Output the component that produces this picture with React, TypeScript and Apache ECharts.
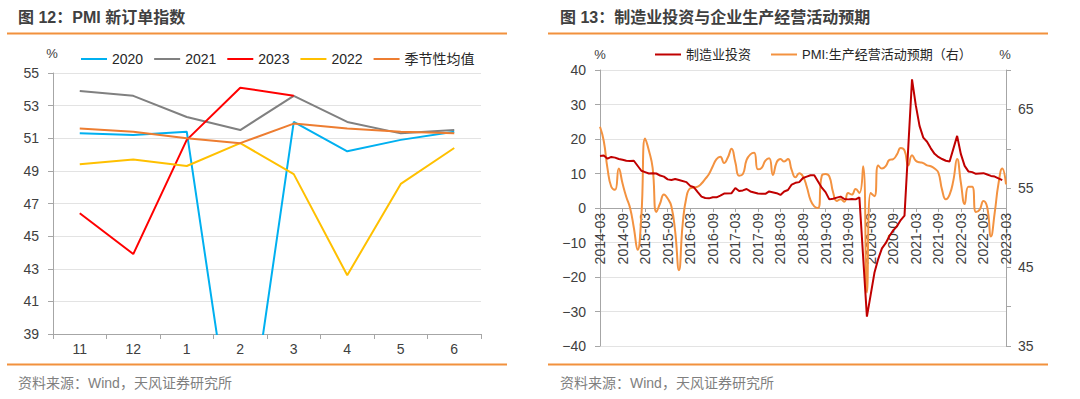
import React, { useEffect, useRef } from "react";
import * as echarts from "echarts";

// ---------- Left chart: PMI new orders index ----------
const pmiMonths = ["11", "12", "1", "2", "3", "4", "5", "6"];
const pmi2020 = [51.3, 51.2, 51.4, 29.3, 52.0, 50.2, 50.9, 51.4];
const pmi2021 = [53.9, 53.6, 52.3, 51.5, 53.6, 52.0, 51.3, 51.5];
const pmi2023 = [46.4, 43.9, 50.9, 54.1, 53.6, null, null, null];
const pmi2022 = [49.4, 49.7, 49.3, 50.7, 48.8, 42.6, 48.2, 50.4];
const pmiSeasonal = [51.6, 51.4, 51.0, 50.7, 51.9, 51.6, 51.4, 51.3];

// ---------- Right chart: manufacturing investment vs PMI expectations ----------
const startYear = 2014;
const startMonth = 3;
const endYear = 2023;
const endMonth = 3;
const monthLabels: string[] = [];
for (let y = startYear; y <= endYear; y++) {
  for (let m = 1; m <= 12; m++) {
    if (y === startYear && m < startMonth) continue;
    if (y === endYear && m > endMonth) continue;
    monthLabels.push(`${y}-${String(m).padStart(2, "0")}`);
  }
}

// 制造业投资 (cumulative yoy, %), from 2014-03; January has no value
const investment = [
  // 2014 Mar-Dec
  15.1, 15.2, 14.3, 14.8, 14.6, 14.2, 14.0, 13.7, 13.6, 13.7,
  // 2015
  null, 10.8, 10.4, 10.0, 10.1, 10.0, 9.4, 9.1, 8.3, 8.1, 8.4, 8.1,
  // 2016
  null, 7.5, 6.4, 6.0, 4.6, 3.3, 2.9, 2.8, 3.1, 3.1, 3.6, 4.2,
  // 2017
  null, 4.3, 5.8, 4.9, 5.1, 5.5, 4.8, 4.5, 4.2, 4.1, 4.1, 4.8,
  // 2018
  null, 4.3, 3.8, 4.8, 5.2, 6.8, 7.3, 7.5, 8.7, 9.1, 9.5, 9.5,
  // 2019
  null, 5.9, 4.6, 2.5, 2.7, 3.0, 3.3, 2.6, 2.5, 2.6, 2.5, 3.1,
  // 2020
  null, -31.5, -25.2, -18.8, -14.8, -11.7, -10.2, -8.1, -6.5, -5.3, -3.5, -2.2,
  // 2021
  null, 37.3, 29.8, 23.8, 20.4, 19.2, 17.3, 15.7, 14.8, 14.2, 13.7, 13.5,
  // 2022
  null, 20.9, 15.6, 12.2, 10.6, 10.4, 9.9, 10.0, 10.1, 9.7, 9.3, 9.1,
  // 2023 Jan-Mar
  null, 8.1, null,
];

// PMI:生产经营活动预期 (right axis), from 2014-03
const pmiExpect = [
  // 2014 Mar-Dec
  62.8, 61.0, 57.5, 55.2, 54.8, 57.5, 55.6, 53.9, 52.5, 50.0,
  // 2015
  47.2, 51.5, 61.3, 59.8, 57.6, 52.0, 53.1, 54.2, 53.7, 52.7, 49.5, 44.6,
  // 2016
  50.5, 53.9, 55.0, 55.1, 55.2, 55.6, 56.2, 56.8, 57.8, 58.7, 59.0, 58.2,
  // 2017
  58.9, 60.0, 58.3, 56.6, 56.8, 58.6, 59.3, 59.5, 57.4, 57.6, 58.5, 58.8,
  // 2018
  56.7, 58.3, 58.7, 58.4, 58.7, 57.3, 56.4, 56.9, 56.5, 55.2, 53.5, 52.7,
  // 2019
  52.5, 56.6, 56.8, 56.5, 54.5, 53.4, 53.6, 53.3, 54.4, 54.2, 54.9, 54.4,
  // 2020
  57.8, 41.8, 54.4, 54.0, 57.9, 57.5, 57.8, 58.6, 58.7, 59.3, 60.1, 59.8,
  // 2021
  57.9, 59.2, 58.5, 58.3, 58.2, 57.9, 57.8, 57.5, 57.0, 54.8, 53.6, 54.2,
  // 2022
  56.0, 58.7, 55.7, 53.0, 55.2, 55.2, 52.0, 52.3, 53.4, 52.6, 48.9, 51.9,
  // 2023 Jan-Mar
  55.6, 57.5, 55.5,
];

const rightAxisLabels = [35, 45, 55, 65];

const FONT = "'Liberation Sans', Arial, 'Noto Sans CJK SC', sans-serif";
const AXIS = "#A6A6A6";
const GRID = "#E3E3E3";
const LABEL = "#404040";
const RULE = "#F2913D";

// right plot geometry: left axis -40..40 over 276px, x axis sits on 0
const RIGHT_TOP = 70;
const RIGHT_HEIGHT = 276;
const ZERO_OFFSET = -RIGHT_HEIGHT / 2;

export default function App() {
  const ref = useRef<HTMLDivElement>(null);

  useEffect(() => {
    if (!ref.current) return;
    const chart = echarts.init(ref.current, undefined, { renderer: "svg" });

    const lineSeries = (name: string, data: (number | null)[], color: string) => ({
      name,
      type: "line",
      xAxisIndex: 0,
      yAxisIndex: 0,
      data,
      showSymbol: false,
      symbol: "none",
      lineStyle: { width: 2, color },
      itemStyle: { color },
    });

    const option: any = {
      animation: false,
      backgroundColor: "#ffffff",
      textStyle: { fontFamily: FONT },
      grid: [
        { left: 53, top: 73, width: 428, height: 261 },
        { left: 600, top: RIGHT_TOP, width: 406, height: RIGHT_HEIGHT },
      ],
      legend: [
        {
          left: 76,
          top: 47,
          icon: "rect",
          itemWidth: 26,
          itemHeight: 2,
          itemGap: 11,
          textStyle: { fontSize: 14, color: "#262626", fontFamily: FONT },
          data: ["2020", "2021", "2023", "2022", "季节性均值"],
        },
        {
          left: 650,
          top: 43,
          icon: "rect",
          itemWidth: 26,
          itemHeight: 2,
          itemGap: 20,
          textStyle: { fontSize: 13, color: "#262626", fontFamily: FONT },
          data: ["制造业投资", "PMI:生产经营活动预期（右）"],
        },
      ],
      xAxis: [
        {
          gridIndex: 0,
          type: "category",
          data: pmiMonths,
          boundaryGap: true,
          axisLine: { lineStyle: { color: AXIS, width: 1 } },
          axisTick: { show: true, length: 5, lineStyle: { color: AXIS } },
          axisLabel: { fontSize: 14, color: LABEL, margin: 8, fontFamily: FONT },
          splitLine: { show: false },
        },
        {
          gridIndex: 1,
          type: "category",
          data: monthLabels,
          boundaryGap: false,
          position: "bottom",
          offset: ZERO_OFFSET,
          axisLine: { onZero: false, lineStyle: { color: AXIS, width: 1 } },
          axisTick: { show: true, interval: 5, length: 4, lineStyle: { color: AXIS } },
          axisLabel: {
            interval: 5,
            rotate: 90,
            fontSize: 14,
            color: LABEL,
            margin: 5,
            fontFamily: FONT,
          },
          splitLine: { show: false },
        },
      ],
      yAxis: [
        {
          gridIndex: 0,
          type: "value",
          min: 39,
          max: 55,
          interval: 2,
          axisLine: { show: true, lineStyle: { color: AXIS } },
          axisTick: { show: true, length: 5, lineStyle: { color: AXIS } },
          axisLabel: { fontSize: 14, color: LABEL, margin: 14, fontFamily: FONT },
          splitLine: { show: true, lineStyle: { color: GRID, width: 1 } },
        },
        {
          gridIndex: 1,
          type: "value",
          position: "left",
          min: -40,
          max: 40,
          interval: 10,
          axisLine: { show: true, lineStyle: { color: AXIS } },
          axisTick: { show: true, length: 5, lineStyle: { color: AXIS } },
          axisLabel: {
            fontSize: 14,
            color: LABEL,
            margin: 14,
            fontFamily: FONT,
            formatter: (v: number) => (v < 0 ? "\u2212" + Math.abs(v) : String(v)),
          },
          splitLine: { show: true, lineStyle: { color: GRID, width: 1 } },
        },
        {
          gridIndex: 1,
          type: "value",
          position: "right",
          min: 35,
          max: 70,
          interval: 5,
          axisLine: { show: true, lineStyle: { color: AXIS } },
          axisTick: { show: true, length: 5, lineStyle: { color: AXIS } },
          axisLabel: {
            fontSize: 14,
            color: LABEL,
            margin: 12,
            fontFamily: FONT,
            formatter: (v: number) => (rightAxisLabels.includes(v) ? String(v) : ""),
          },
          splitLine: { show: false },
        },
      ],
      series: [
        lineSeries("2020", pmi2020, "#00B0F0"),
        lineSeries("2021", pmi2021, "#808080"),
        lineSeries("2023", pmi2023, "#FF0000"),
        lineSeries("2022", pmi2022, "#FFC000"),
        lineSeries("季节性均值", pmiSeasonal, "#ED7D31"),
        {
          name: "PMI:生产经营活动预期（右）",
          type: "line",
          xAxisIndex: 1,
          yAxisIndex: 2,
          data: pmiExpect,
          smooth: 0.5,
          showSymbol: false,
          symbol: "none",
          lineStyle: { width: 2, color: "#F39240" },
          itemStyle: { color: "#F39240" },
          z: 2,
        },
        {
          name: "制造业投资",
          type: "line",
          xAxisIndex: 1,
          yAxisIndex: 1,
          data: investment,
          connectNulls: true,
          showSymbol: false,
          symbol: "none",
          lineStyle: { width: 2, color: "#C00000" },
          itemStyle: { color: "#C00000" },
          z: 3,
        },
      ],
      graphic: [
        {
          type: "text",
          x: 18,
          y: 17,
          style: {
            text: "图 12：PMI 新订单指数",
            fontSize: 16,
            fontWeight: "bold",
            fontFamily: FONT,
            fill: "#404040",
            verticalAlign: "middle",
          },
        },
        {
          type: "text",
          x: 560,
          y: 17,
          style: {
            text: "图 13：制造业投资与企业生产经营活动预期",
            fontSize: 16,
            fontWeight: "bold",
            fontFamily: FONT,
            fill: "#404040",
            verticalAlign: "middle",
          },
        },
        { type: "line", shape: { x1: 7, y1: 33.5, x2: 507, y2: 33.5 }, style: { stroke: RULE, lineWidth: 2 } },
        { type: "line", shape: { x1: 548, y1: 33.5, x2: 1048, y2: 33.5 }, style: { stroke: RULE, lineWidth: 2 } },
        { type: "line", shape: { x1: 7, y1: 364.5, x2: 507, y2: 364.5 }, style: { stroke: RULE, lineWidth: 2 } },
        { type: "line", shape: { x1: 548, y1: 364.5, x2: 1048, y2: 364.5 }, style: { stroke: RULE, lineWidth: 2 } },
        {
          type: "text",
          x: 18,
          y: 383,
          style: {
            text: "资料来源：Wind，天风证券研究所",
            fontSize: 14,
            fontFamily: FONT,
            fill: "#7F7F7F",
            verticalAlign: "middle",
          },
        },
        {
          type: "text",
          x: 560,
          y: 383,
          style: {
            text: "资料来源：Wind，天风证券研究所",
            fontSize: 14,
            fontFamily: FONT,
            fill: "#7F7F7F",
            verticalAlign: "middle",
          },
        },
        {
          type: "text",
          x: 52,
          y: 53,
          style: { text: "%", fontSize: 13, fontFamily: FONT, fill: LABEL, align: "center", verticalAlign: "middle" },
        },
        {
          type: "text",
          x: 600,
          y: 54,
          style: { text: "%", fontSize: 13, fontFamily: FONT, fill: LABEL, align: "center", verticalAlign: "middle" },
        },
        {
          type: "text",
          x: 1005,
          y: 54,
          style: { text: "%", fontSize: 13, fontFamily: FONT, fill: LABEL, align: "center", verticalAlign: "middle" },
        },
      ],
    };

    chart.setOption(option);
    return () => {
      chart.dispose();
    };
  }, []);

  return (
    <div
      ref={ref}
      style={{ position: "absolute", left: 0, top: 0, width: 1080, height: 399, background: "#fff" }}
    />
  );
}
